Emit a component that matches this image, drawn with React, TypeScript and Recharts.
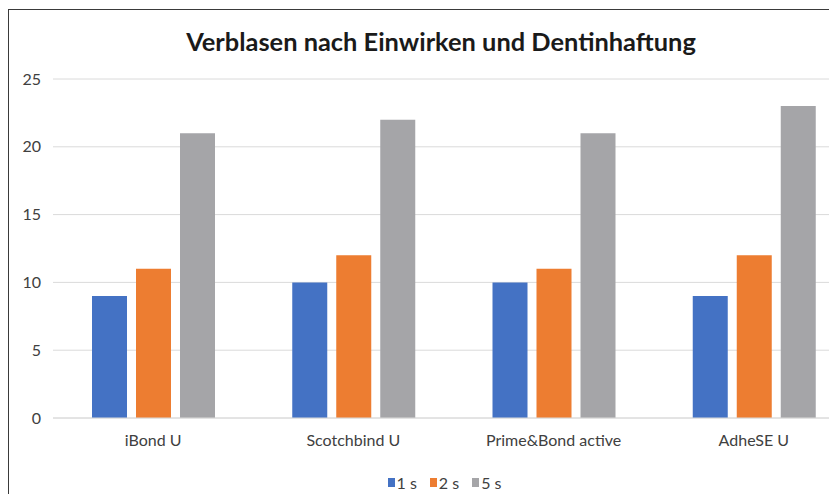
import React from "react";
import { BarChart, Bar, XAxis, YAxis, CartesianGrid, Legend } from "recharts";

const products = ["iBond U", "Scotchbind U", "Prime&Bond active", "AdheSE U"];
const oneSecond = [9, 10, 10, 9];
const twoSeconds = [11, 12, 11, 12];
const fiveSeconds = [21, 22, 21, 23];
const yTicks = [0, 5, 10, 15, 20, 25];

const seriesInfo = [
  { key: "s1", name: "1 s", color: "#4472C4" },
  { key: "s2", name: "2 s", color: "#ED7D31" },
  { key: "s5", name: "5 s", color: "#A5A5A8" },
];

const data = products.map((name, i) => ({
  name,
  s1: oneSecond[i],
  s2: twoSeconds[i],
  s5: fiveSeconds[i],
}));

const font = "Lato, 'Open Sans', sans-serif";

const frameStyle: React.CSSProperties = {
  position: "fixed",
  left: 0,
  top: 0,
  width: 829,
  height: 494,
  overflow: "hidden",
  background: "#fff",
  fontFamily: font,
};

const borderStyle: React.CSSProperties = {
  position: "absolute",
  left: 8,
  top: 9,
  width: 900,
  height: 600,
  borderLeft: "1.5px solid #3a3a3a",
  borderTop: "1.5px solid #3a3a3a",
};

const titleStyle: React.CSSProperties = {
  position: "absolute",
  left: 0,
  top: 26,
  width: 882,
  textAlign: "center",
  fontSize: 25.4,
  fontWeight: 700,
  color: "#1a1a1a",
  lineHeight: "30px",
  zIndex: 2,
};

const renderLegend = () => (
  <div style={{ display: "flex", justifyContent: "center", alignItems: "center", fontFamily: font }}>
    {seriesInfo.map((s, i) => (
      <div key={s.key} style={{ display: "flex", alignItems: "center", marginLeft: i === 0 ? 0 : 13 }}>
        <span style={{ width: 7, height: 9, background: s.color, marginRight: 2, display: "inline-block" }} />
        <span style={{ fontSize: 16, color: "#404040" }}>{s.name}</span>
      </div>
    ))}
  </div>
);

export default function App() {
  return (
    <div style={frameStyle}>
      <div style={borderStyle} />
      <div style={titleStyle}>Verblasen nach Einwirken und Dentinhaftung</div>
      <BarChart
        width={900}
        height={494}
        data={data}
        margin={{ top: 79, right: 46, left: 0, bottom: 27 }}
        barSize={35}
        barGap={9}
        style={{ position: "absolute", left: 0, top: 0 }}
      >
        <CartesianGrid vertical={false} stroke="#dadada" />
        <XAxis
          dataKey="name"
          axisLine={{ stroke: "#dadada" }}
          tickLine={false}
          tickMargin={11}
          height={30}
          tick={{ fontSize: 16, fill: "#404040", fontFamily: font }}
        />
        <YAxis
          width={53}
          domain={[0, 25]}
          ticks={yTicks}
          axisLine={false}
          tickLine={false}
          tickMargin={6}
          tick={{ fontSize: 16, fill: "#404040", fontFamily: font }}
        />
        <Legend
          content={renderLegend}
          wrapperStyle={{ position: "absolute", left: 0, width: 889, top: 473, bottom: "auto" }}
        />
        {seriesInfo.map((s) => (
          <Bar key={s.key} dataKey={s.key} name={s.name} fill={s.color} isAnimationActive={false} />
        ))}
      </BarChart>
    </div>
  );
}
